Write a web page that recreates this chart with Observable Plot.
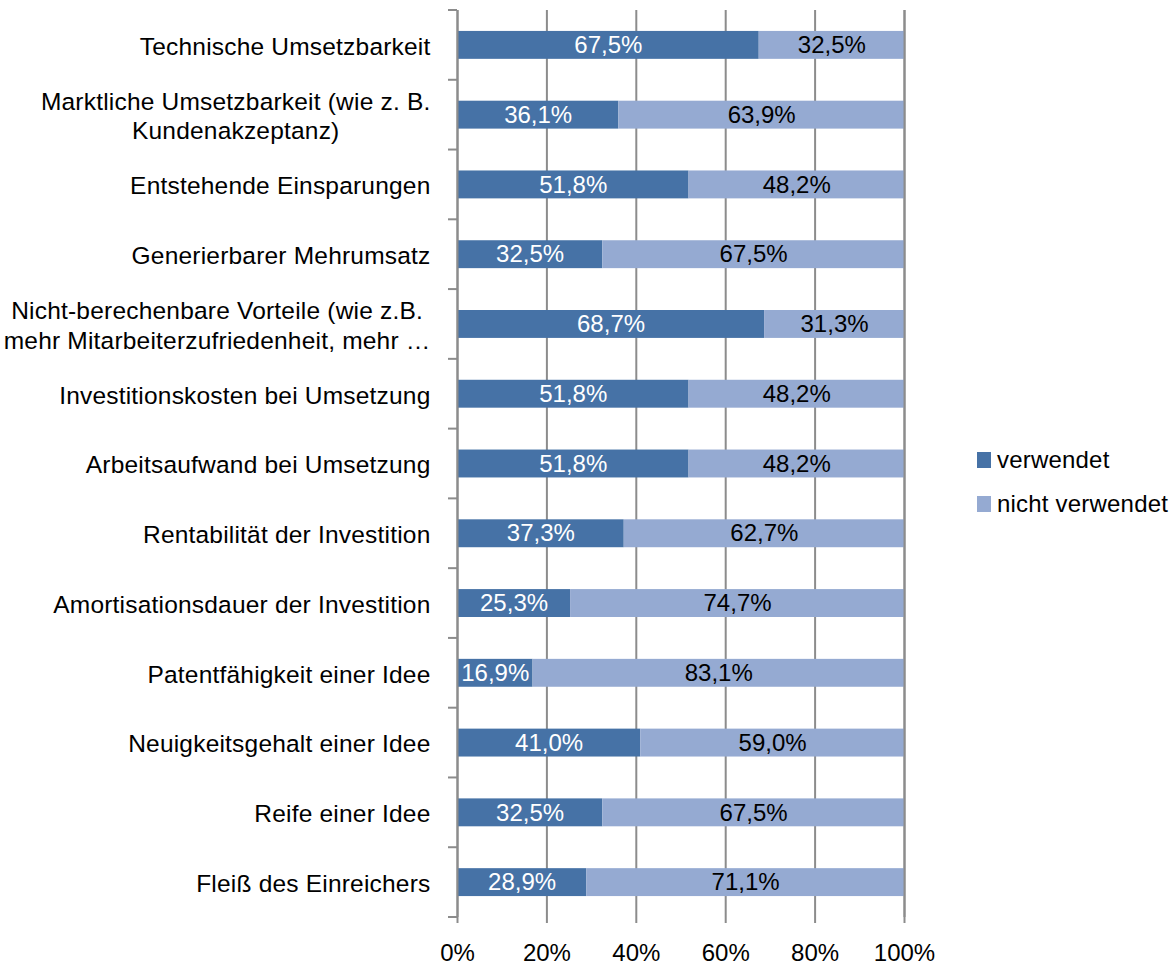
<!DOCTYPE html>
<html>
<head>
<meta charset="utf-8">
<script src="https://cdn.jsdelivr.net/npm/d3@7"></script>
<script src="https://cdn.jsdelivr.net/npm/@observablehq/plot@0.6"></script>
<style>
  html, body { margin: 0; padding: 0; background: #ffffff; }
  #chart { position: relative; width: 1175px; height: 964px; font-family: "Liberation Sans", Arial, sans-serif; }
  .legend { position: absolute; left: 977px; top: 448px; font-size: 24px; color: #000; letter-spacing: 0.2px; }
  .legend .row { position: relative; height: 44px; line-height: 24px; white-space: nowrap; }
  .legend .sw { position: absolute; left: 0; top: 4px; width: 14px; height: 16px; }
  .legend .lab { position: absolute; left: 20px; top: 0; }
</style>
</head>
<body>
<div id="chart"></div>
<script>
const categories = [
  "Technische Umsetzbarkeit",
  "Marktliche Umsetzbarkeit (wie z. B.\nKundenakzeptanz)",
  "Entstehende Einsparungen",
  "Generierbarer Mehrumsatz",
  "Nicht-berechenbare Vorteile (wie z.B.\nmehr Mitarbeiterzufriedenheit, mehr …",
  "Investitionskosten bei Umsetzung",
  "Arbeitsaufwand bei Umsetzung",
  "Rentabilität der Investition",
  "Amortisationsdauer der Investition",
  "Patentfähigkeit einer Idee",
  "Neuigkeitsgehalt einer Idee",
  "Reife einer Idee",
  "Fleiß des Einreichers"
];
const verwendet = [67.5, 36.1, 51.8, 32.5, 68.7, 51.8, 51.8, 37.3, 25.3, 16.9, 41.0, 32.5, 28.9];
const nichtVerwendet = [32.5, 63.9, 48.2, 67.5, 31.3, 48.2, 48.2, 62.7, 74.7, 83.1, 59.0, 67.5, 71.1];
const seriesNames = ["verwendet", "nicht verwendet"];
const seriesColors = ["#4672A6", "#95AAD2"];
const xTicks = [0, 20, 40, 60, 80, 100];

const rows = [];
categories.forEach((c, i) => {
  rows.push({cat: c, series: seriesNames[0], value: verwendet[i]});
  rows.push({cat: c, series: seriesNames[1], value: nichtVerwendet[i]});
});

const fmt = v => d3.format(".1f")(v).replace(".", ",") + "%";
const gray = "#8c8c8c";
const stackOpts = {x: "value", y: "cat", z: "series", order: seriesNames};

const plot = Plot.plot({
  width: 1175,
  height: 964,
  marginLeft: 457,
  marginRight: 271,
  marginTop: 10,
  marginBottom: 47,
  style: {fontFamily: "'Liberation Sans', Arial, sans-serif", fontSize: "24px", color: "#000", background: "transparent", overflow: "visible"},
  x: {domain: [0, 100]},
  y: {domain: categories, paddingInner: 0.6, paddingOuter: 0.3, round: false, label: null},
  color: {domain: seriesNames, range: seriesColors},
  marks: [
    Plot.gridX(xTicks, {stroke: gray, strokeOpacity: 1, strokeWidth: 2}),
    Plot.barX(rows, Plot.stackX({...stackOpts, fill: "series"})),
    Plot.textX(rows, Plot.stackX({...stackOpts, text: d => d.series === seriesNames[0] ? fmt(d.value) : null, fill: "white", fontSize: 24})),
    Plot.textX(rows, Plot.stackX({...stackOpts, text: d => d.series === seriesNames[1] ? fmt(d.value) : null, fill: "black", fontSize: 24})),
    Plot.ruleX([0, 100], {stroke: gray, strokeWidth: 2}),
    Plot.axisX({ticks: xTicks, tickFormat: d => d + "%", tickSize: 6, tickPadding: 20, stroke: gray, strokeWidth: 2, label: null, fontSize: 24, fill: "black"}),
    Plot.axisY({tickSize: 0, tickPadding: 27, label: null, lineHeight: 1.2, fontSize: 24.5, fill: "black"})
  ]
});

const container = document.getElementById("chart");
container.appendChild(plot);

// Slightly wider letter spacing of the category labels, then center multi-line labels
const yLabels = d3.select(plot).selectAll('g[aria-label="y-axis tick label"] text').style("letter-spacing", "0.2px");
yLabels.each(function() {
  const tspans = this.querySelectorAll("tspan");
  if (tspans.length > 1) {
    let w = 0;
    tspans.forEach(t => { w = Math.max(w, t.getComputedTextLength()); });
    this.setAttribute("text-anchor", "middle");
    tspans.forEach(t => t.setAttribute("x", -w / 2));
  }
});

// Category separator ticks on the y axis
const ys = plot.scale("y");
const xs = plot.scale("x");
const step = ys.step ?? (ys.bandwidth / (1 - ys.paddingInner));
const bounds = categories.map(c => ys.apply(c) - (step - ys.bandwidth) / 2);
bounds.push(bounds[bounds.length - 1] + step);
const x0 = xs.apply(0);
d3.select(plot).append("g").attr("stroke", gray).attr("stroke-width", 2)
  .selectAll("line").data(bounds).join("line")
  .attr("x1", x0 - 9).attr("x2", x0)
  .attr("y1", d => d).attr("y2", d => d);

// Legend
const legend = d3.select(container).append("div").attr("class", "legend");
const items = legend.selectAll("div.row").data(seriesNames).join("div").attr("class", "row");
items.append("span").attr("class", "sw").style("background", (d, i) => seriesColors[i]);
items.append("span").attr("class", "lab").text(d => d);
</script>
</body>
</html>
